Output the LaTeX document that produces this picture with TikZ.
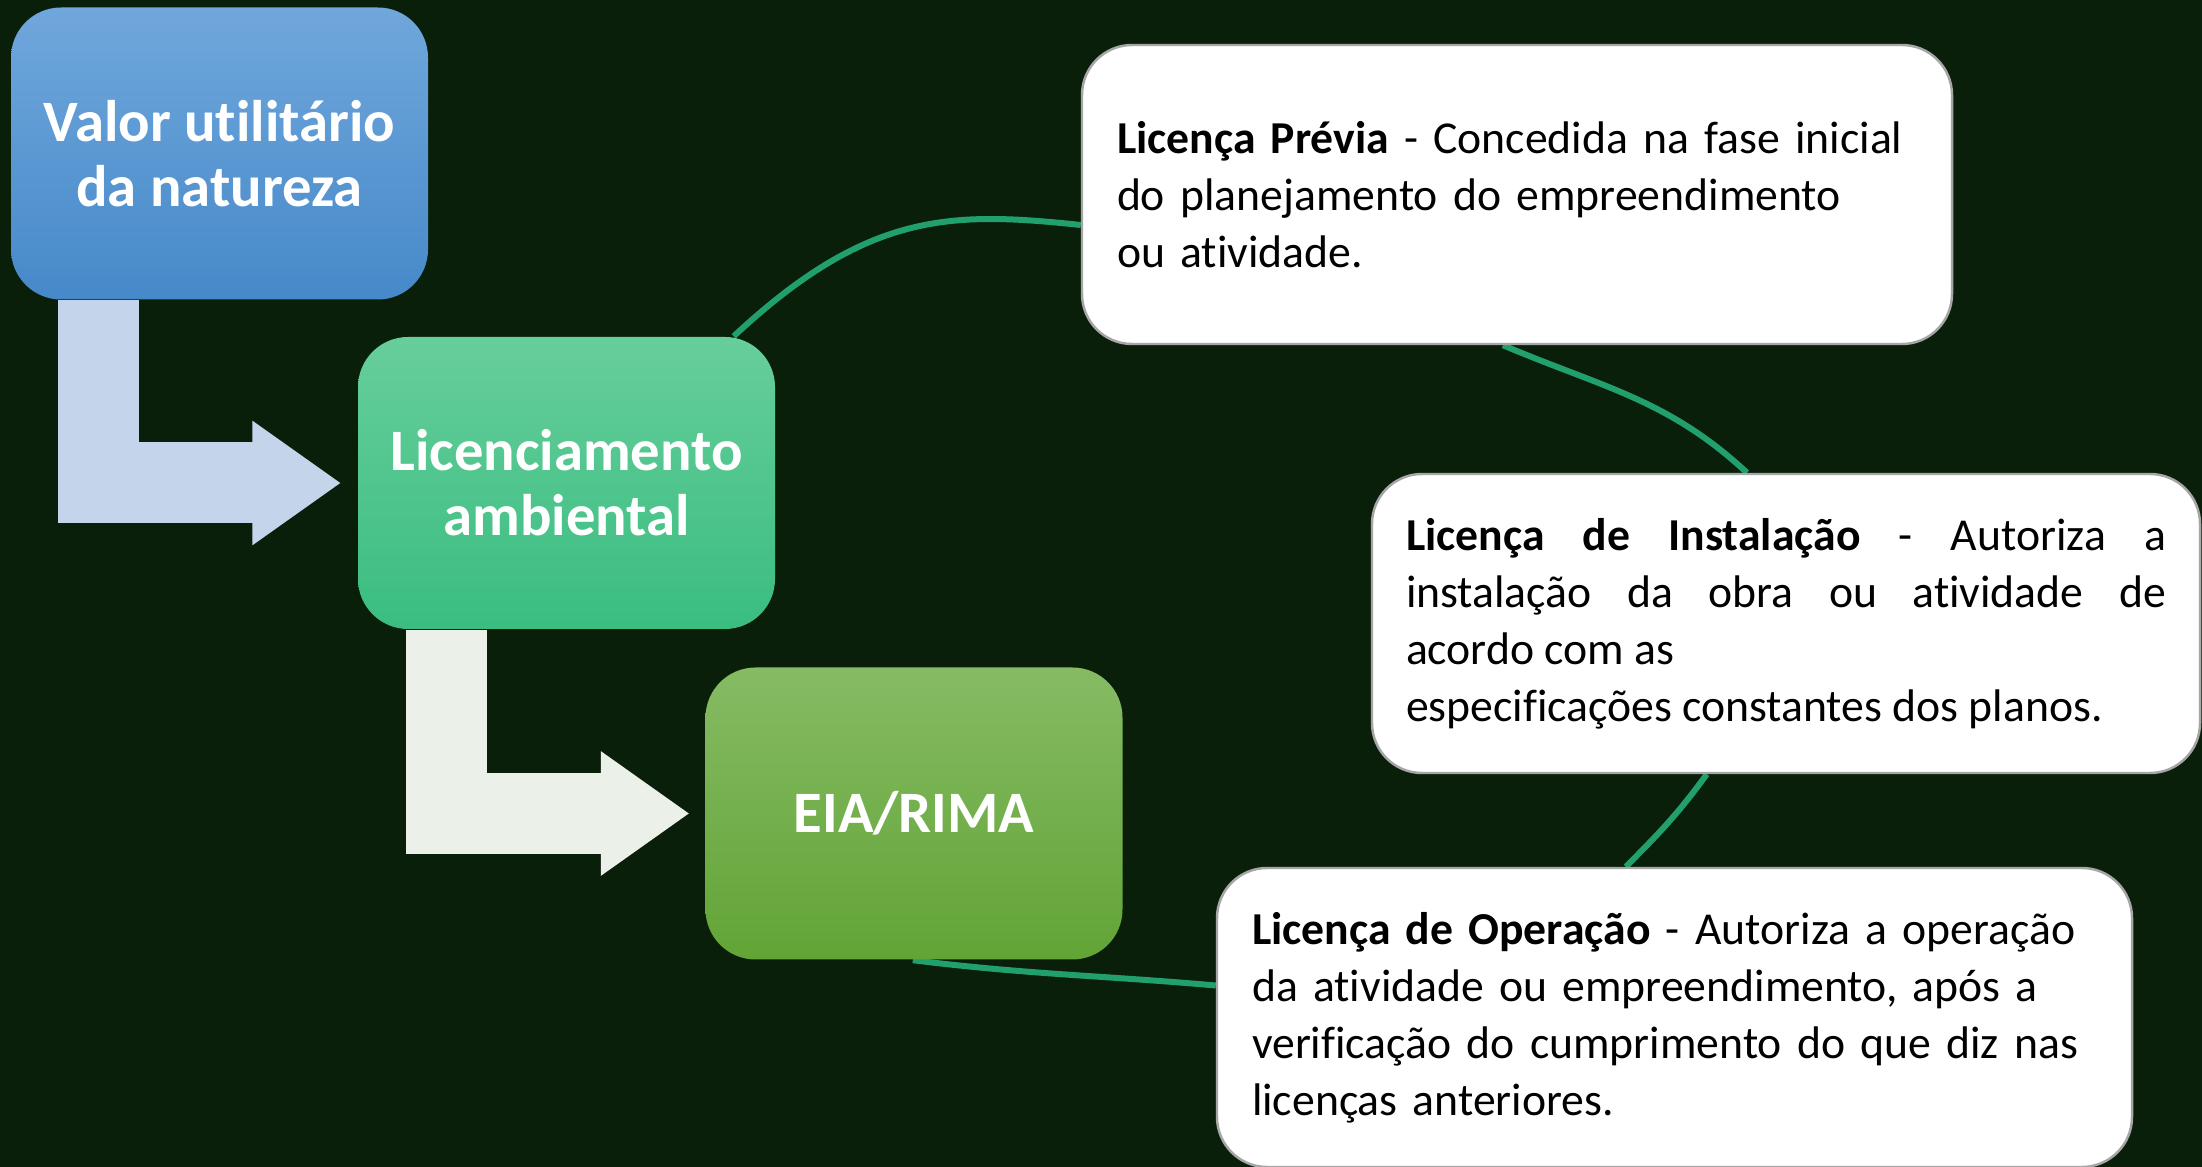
\documentclass[tikz,border=0pt]{standalone}
\usepackage{fontspec}
\setmainfont{Carlito}[Ligatures=CommonOff]
\usepackage{xcolor}
\usetikzlibrary{arrows.meta}
\usetikzlibrary{backgrounds}

\definecolor{bgdark}{HTML}{0A1F0A}
\definecolor{ringgreen}{HTML}{21A06E}
\definecolor{boxgray}{HTML}{A6A6A6}
\definecolor{bluetop}{HTML}{70A7DC}
\definecolor{bluebot}{HTML}{4689C9}
\definecolor{mintop}{HTML}{67CE9B}
\definecolor{mintbot}{HTML}{3ABD80}
\definecolor{leaftop}{HTML}{86BB64}
\definecolor{leafbot}{HTML}{62A436}
\definecolor{arrowblue}{HTML}{C3D4EB}
\definecolor{arrowpale}{HTML}{EBF0E9}

\begin{document}
\begin{tikzpicture}[colbox/.style={rectangle, rounded corners=0.5cm, minimum width=4.17cm, minimum height=2.92cm, text=white, align=center, font=\fontsize{16.7}{18.5}\selectfont\bfseries},
	infobox/.style={rectangle, rounded corners=0.5cm, fill=white, draw=boxgray, line width=0.7pt, minimum height=2.99cm, inner xsep=0.35cm, font=\fontsize{13}{16.2}\selectfont},
	bentarrow/.style={line width=0.81cm, -{Triangle[length=0.88cm, width=1.24cm, line width=1pt]}},
	ring/.style={draw=ringgreen, line width=0.06cm}]
		\useasboundingbox (0,0) rectangle (22.02,-11.67);
		
		\node[colbox, top color=bluetop, bottom color=bluebot] at (2.195,-1.535) (valor) {Valor utilitário\\da natureza};
		\node[colbox, top color=mintop, bottom color=mintbot] at (5.665,-4.83) (lic) {Licenciamento\\ambiental};
		\node[colbox, top color=leaftop, bottom color=leafbot] at (9.14,-8.135) (eia) {EIA/RIMA};
		
		\node[infobox, minimum width=8.70cm, text width=8.0cm, align=left] at (15.17,-1.945) (prev) {\textbf{Licença Prévia} - Concedida na fase inicial\\do planejamento do empreendimento\\ou atividade.};
		\node[infobox, minimum width=8.28cm, text width=7.60cm, inner xsep=0.34cm, align=justify] at (17.86,-6.235) (inst) {\textbf{Licença de Instalação} - Autoriza a\linebreak instalação da obra ou atividade de\linebreak acordo com as\\especificações constantes dos planos.};
		\node[infobox, minimum width=9.13cm, text width=8.45cm, align=left] at (16.745,-10.175) (oper) {\textbf{Licença de Operação} - Autoriza a operação\\da atividade ou empreendimento, após a\\verificação do cumprimento do que diz nas\\licenças anteriores.};
		
		\draw[bentarrow, draw=arrowblue] ([xshift=0.885cm]valor.south west) |- ([xshift=-0.17cm]lic.west);
		\draw[bentarrow, draw=arrowpale] ([xshift=0.89cm]lic.south west) |- ([xshift=-0.16cm]eia.west);
		
		\begin{scope}[on background layer]
			\fill[bgdark] (0,0) rectangle (22.02,-11.67);
			\draw[ring] ([xshift=-0.42cm]lic.north east) to[out=43, in=174, out distance=1.84cm, in distance=1.3cm] ([yshift=-0.305cm]prev.west);
			\draw[ring] ([xshift=-0.14cm]prev.south) to[out=-23, in=137] ([xshift=-0.39cm]inst.north);
			\draw[ring] ([xshift=3.36cm]inst.south west) to[out=-126, in=45] ([xshift=4.10cm]oper.north west);
			\draw[ring] ([yshift=0.32cm]oper.west) to[out=175, in=-7] ([xshift=2.08cm]eia.south west);
		\end{scope}
	\end{tikzpicture}
\end{document}
